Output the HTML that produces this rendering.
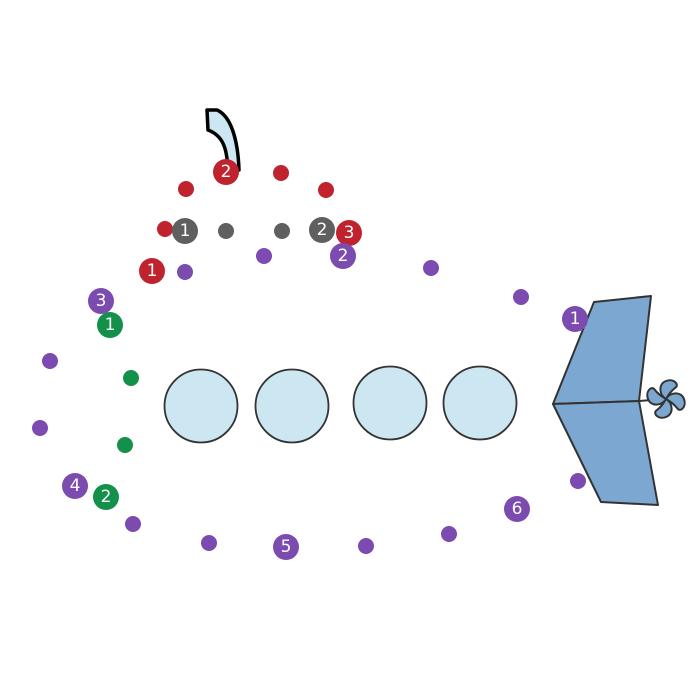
<!DOCTYPE html>
<html><head><style>body{margin:0;background:#fff}svg{display:block}text{font-family:"DejaVu Sans","Liberation Sans",sans-serif;font-size:17px;fill:#fff;text-anchor:middle;dominant-baseline:central}</style></head><body>
<svg width="700" height="700" viewBox="0 0 700 700">
<path d="M207,110 L217,110 C231,116 238,140 239,170 L228,170 C227,150 224,136 208,130 Z" fill="#cce6f2" stroke="#000" stroke-width="3.5" stroke-linejoin="round"/>
<g fill="#cce6f2" stroke="#333" stroke-width="1.8">
<circle cx="201" cy="406" r="36.5"/><circle cx="292" cy="406" r="36.5"/><circle cx="390" cy="403" r="36.5"/><circle cx="480" cy="403" r="36.5"/></g>
<g fill="#7ba7d0" stroke="#333" stroke-width="2" stroke-linejoin="round">
<path d="M594,302 L651,296 L639,401 L553,404 Z"/><path d="M553,404 L639,401 L658,505 L601,502 Z"/>
<line x1="639" y1="401" x2="652" y2="400"/>
<g transform="translate(666,399)" stroke-width="2">
<path d="M0,0 C-7,-4 -8,-15 0,-18 C8,-21 14,-14 9,-11 C5,-8 3,-5 0,0Z"/>
<path d="M0,0 C-7,-4 -8,-15 0,-18 C8,-21 14,-14 9,-11 C5,-8 3,-5 0,0Z" transform="rotate(90)"/>
<path d="M0,0 C-7,-4 -8,-15 0,-18 C8,-21 14,-14 9,-11 C5,-8 3,-5 0,0Z" transform="rotate(180)"/>
<path d="M0,0 C-7,-4 -8,-15 0,-18 C8,-21 14,-14 9,-11 C5,-8 3,-5 0,0Z" transform="rotate(270)"/>
</g>
</g>
<g fill="#c0232e"><circle cx="186" cy="189" r="8"/><circle cx="281" cy="173" r="8"/><circle cx="326" cy="190" r="8"/><circle cx="165" cy="229" r="8"/></g>
<g fill="#5f5f5f"><circle cx="226" cy="231" r="8"/><circle cx="282" cy="231" r="8"/></g>
<g fill="#7b4bb0"><circle cx="185" cy="272" r="8"/><circle cx="264" cy="256" r="8"/><circle cx="431" cy="268" r="8"/><circle cx="521" cy="297" r="8"/><circle cx="50" cy="361" r="8"/><circle cx="40" cy="428" r="8"/><circle cx="133" cy="524" r="8"/><circle cx="209" cy="543" r="8"/><circle cx="366" cy="546" r="8"/><circle cx="449" cy="534" r="8"/><circle cx="578" cy="481" r="8"/></g>
<g fill="#13904a"><circle cx="131" cy="378" r="8"/><circle cx="125" cy="445" r="8"/></g>
<g>
<circle cx="226" cy="172" r="13" fill="#c0232e"/><text x="226" y="172">2</text>
<circle cx="185" cy="231" r="13" fill="#5f5f5f"/><text x="185" y="231">1</text>
<circle cx="322" cy="230" r="13" fill="#5f5f5f"/><text x="322" y="230">2</text>
<circle cx="349" cy="233" r="13" fill="#c0232e"/><text x="349" y="233">3</text>
<circle cx="343" cy="256" r="13" fill="#7b4bb0"/><text x="343" y="256">2</text>
<circle cx="152" cy="271" r="13" fill="#c0232e"/><text x="152" y="271">1</text>
<circle cx="101" cy="301" r="13" fill="#7b4bb0"/><text x="101" y="301">3</text>
<circle cx="110" cy="325" r="13" fill="#13904a"/><text x="110" y="325">1</text>
<circle cx="575" cy="319" r="13" fill="#7b4bb0"/><text x="575" y="319">1</text>
<circle cx="75" cy="486" r="13" fill="#7b4bb0"/><text x="75" y="486">4</text>
<circle cx="106" cy="497" r="13" fill="#13904a"/><text x="106" y="497">2</text>
<circle cx="286" cy="547" r="13" fill="#7b4bb0"/><text x="286" y="547">5</text>
<circle cx="517" cy="509" r="13" fill="#7b4bb0"/><text x="517" y="509">6</text>
</g>
</svg></body></html>
